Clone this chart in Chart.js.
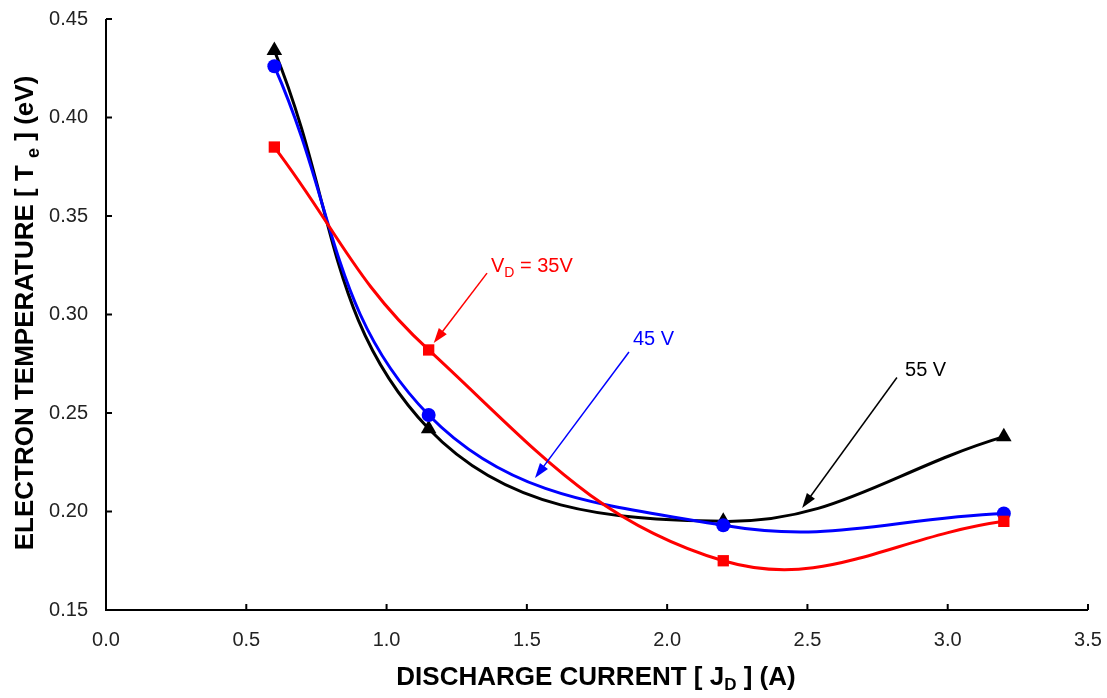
<!DOCTYPE html>
<html>
<head>
<meta charset="utf-8">
<script src="https://cdn.jsdelivr.net/npm/chart.js@4"></script>
<style>
  html, body { margin: 0; padding: 0; background: #fff; }
  #wrap { width: 1107px; height: 698px; }
</style>
</head>
<body>
<div id="wrap"><canvas id="chart"></canvas></div>
<script>
const current = [0.6, 1.15, 2.2, 3.2];
const te35 = [0.385, 0.282, 0.175, 0.195];
const te45 = [0.426, 0.249, 0.193, 0.199];
const te55 = [0.434, 0.242, 0.195, 0.238];
const xTicks = [0, 0.5, 1, 1.5, 2, 2.5, 3, 3.5];
const yTicks = [0.15, 0.2, 0.25, 0.3, 0.35, 0.4, 0.45];

// callout labels, placed in data units
const notes = [
  { text: "V", sub: "D", rest: " = 35V", color: "#ff0000", at: [1.372, 0.3245], from: [1.358, 0.321], to: [1.168, 0.2855] },
  { text: "45 V", color: "#0000ff", at: [1.878, 0.2875], from: [1.864, 0.281], to: [1.529, 0.217] },
  { text: "55 V", color: "#000000", at: [2.848, 0.2715], from: [2.819, 0.268], to: [2.481, 0.2018] },
];

const pts = (ys) => current.map((x, i) => ({ x: x, y: ys[i] }));

const font = "'Liberation Sans', Arial, sans-serif";

const extras = {
  id: "extras",
  afterDraw(chart) {
    const { ctx, chartArea: a, scales: { x, y } } = chart;
    ctx.save();
    // axis lines and inside ticks
    ctx.strokeStyle = "#000";
    ctx.lineWidth = 2;
    ctx.beginPath();
    ctx.moveTo(a.left, a.top);
    ctx.lineTo(a.left, a.bottom);
    ctx.lineTo(a.right, a.bottom);
    xTicks.forEach(t => { const px = x.getPixelForValue(t); ctx.moveTo(px, a.bottom); ctx.lineTo(px, a.bottom - 6); });
    yTicks.forEach(t => { const py = y.getPixelForValue(t); ctx.moveTo(a.left, py); ctx.lineTo(a.left + 6, py); });
    ctx.stroke();

    // callouts
    notes.forEach(n => {
      const x1 = x.getPixelForValue(n.from[0]), y1 = y.getPixelForValue(n.from[1]);
      const x2 = x.getPixelForValue(n.to[0]), y2 = y.getPixelForValue(n.to[1]);
      const ang = Math.atan2(y2 - y1, x2 - x1);
      ctx.strokeStyle = n.color;
      ctx.fillStyle = n.color;
      ctx.lineWidth = 1.5;
      ctx.beginPath();
      ctx.moveTo(x1, y1);
      ctx.lineTo(x2 - 12 * Math.cos(ang), y2 - 12 * Math.sin(ang));
      ctx.stroke();
      ctx.beginPath();
      ctx.moveTo(x2, y2);
      ctx.lineTo(x2 - 15 * Math.cos(ang) + 5 * Math.sin(ang), y2 - 15 * Math.sin(ang) - 5 * Math.cos(ang));
      ctx.lineTo(x2 - 15 * Math.cos(ang) - 5 * Math.sin(ang), y2 - 15 * Math.sin(ang) + 5 * Math.cos(ang));
      ctx.closePath();
      ctx.fill();

      let tx = x.getPixelForValue(n.at[0]);
      const ty = y.getPixelForValue(n.at[1]);
      ctx.textBaseline = "middle";
      ctx.textAlign = "left";
      ctx.font = "20px " + font;
      ctx.fillText(n.text, tx, ty);
      if (n.sub) {
        tx += ctx.measureText(n.text).width;
        ctx.font = "14px " + font;
        ctx.fillText(n.sub, tx, ty + 7);
        tx += ctx.measureText(n.sub).width;
        ctx.font = "20px " + font;
        ctx.fillText(n.rest, tx, ty);
      }
    });

    // axis titles with subscripts
    ctx.fillStyle = "#000";
    const drawParts = (parts, cx, cy) => {
      let w = 0;
      parts.forEach(p => { ctx.font = "bold " + p[1] + "px " + font; w += ctx.measureText(p[0]).width; });
      let px = cx - w / 2;
      ctx.textAlign = "left";
      ctx.textBaseline = "alphabetic";
      parts.forEach(p => {
        ctx.font = "bold " + p[1] + "px " + font;
        ctx.fillText(p[0], px, cy + p[2]);
        px += ctx.measureText(p[0]).width;
      });
    };
    drawParts([["DISCHARGE CURRENT [ J", 26, 0], ["D", 17, 5], [" ] (A)", 26, 0]], 596, 685);

    ctx.translate(33, 313);
    ctx.rotate(-Math.PI / 2);
    drawParts([["ELECTRON TEMPERATURE [ T ", 26, 0], ["e", 18, 6], [" ] (eV)", 26, 0]], 0, 0);
    ctx.restore();
  }
};

const ds = (label, data, color, style, r) => ({
  label: label,
  data: pts(data),
  borderColor: color,
  backgroundColor: color,
  borderWidth: 3,
  pointStyle: style,
  pointRadius: r,
  pointBorderWidth: 0,
  tension: 0.4,
});

new Chart(document.getElementById("chart"), {
  type: "line",
  data: {
    datasets: [
      ds("35 V", te35, "#ff0000", "rect", 8),
      ds("45 V", te45, "#0000ff", "circle", 7),
      ds("55 V", te55, "#000000", "triangle", 9),
    ],
  },
  options: {
    responsive: true,
    maintainAspectRatio: false,
    animation: false,
    layout: { padding: { top: 19, right: 19, left: 0, bottom: 0 } },
    plugins: { legend: { display: false }, tooltip: { enabled: false } },
    scales: {
      x: {
        type: "linear",
        min: 0,
        max: 3.5,
        afterFit: s => { s.height = 88; s.paddingLeft = 0; s.paddingRight = 0; },
        afterBuildTicks: s => { s.ticks = xTicks.map(v => ({ value: v })); },
        grid: { display: false },
        border: { display: false },
        ticks: { color: "#222", font: { family: font, size: 20 }, padding: 10, callback: v => v.toFixed(1) },
      },
      y: {
        type: "linear",
        min: 0.15,
        max: 0.45,
        afterFit: s => { s.width = 106; s.paddingTop = 0; s.paddingBottom = 0; },
        afterBuildTicks: s => { s.ticks = yTicks.map(v => ({ value: v })); },
        grid: { display: false },
        border: { display: false },
        ticks: { color: "#222", font: { family: font, size: 20 }, padding: 10, callback: v => v.toFixed(2) },
      },
    },
  },
  plugins: [extras],
});
</script>
</body>
</html>
